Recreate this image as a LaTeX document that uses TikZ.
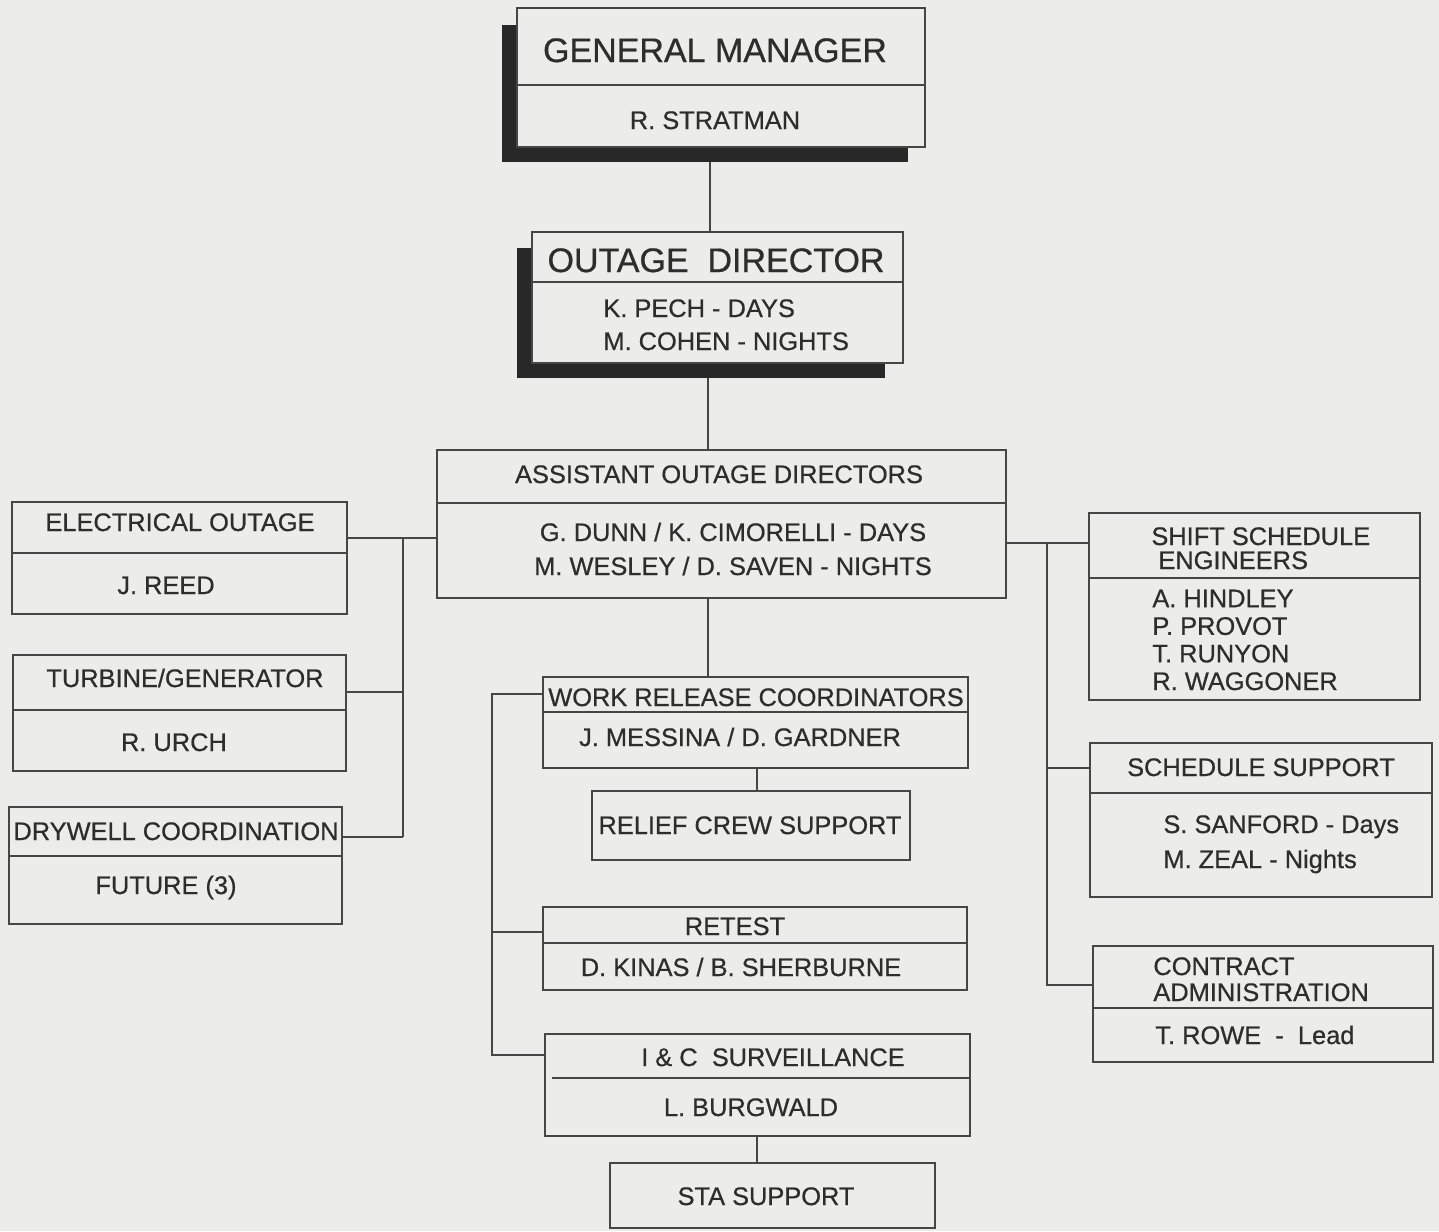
\documentclass[tikz,border=0pt]{standalone}
\usepackage{fontspec}
\setmainfont{Liberation Sans}[FakeBold=0.6]
\usetikzlibrary{fit}
\definecolor{bg}{RGB}{236,236,234}
\definecolor{ink}{RGB}{70,70,70}
\definecolor{txt}{RGB}{45,45,45}
\definecolor{shad}{RGB}{40,40,40}
\tikzset{
  box/.style={draw=ink, line width=0.9pt, fill=bg, inner sep=0pt, rectangle},
  shadowbox/.style={fill=shad, draw=none, inner sep=0pt, rectangle},
  divider/.style={draw=ink, line width=0.9pt},
  conn/.style={draw=ink, line width=0.8pt},
  lbl/.style={text=txt, inner sep=0pt, anchor=base, font=\fontsize{12.7}{17}\selectfont},
  lbll/.style={lbl, anchor=base west, align=left},
  big/.style={text=txt, inner sep=0pt, anchor=base, font=\fontsize{17}{20}\selectfont},
}
\begin{document}
\begin{tikzpicture}[x=0.5pt,y=-0.5pt]
\useasboundingbox[fill=bg] (0,0) rectangle (1439,1231);

% ---- shadows
\node[shadowbox, fit={(502,25) (908,162)}] (gmsh) {};
\node[shadowbox, fit={(517,248) (885,378)}] (odsh) {};

% ---- boxes
\node[box, fit={(517,8) (925,147)}] (gm) {};
\node[box, fit={(532,232) (903,363)}] (od) {};
\node[box, fit={(437,450) (1006,598)}] (aod) {};
\node[box, fit={(12,502) (347,614)}] (eo) {};
\node[box, fit={(13,655) (346,771)}] (tg) {};
\node[box, fit={(9,807) (342,924)}] (dc) {};
\node[box, fit={(543,677) (968,768)}] (wrc) {};
\node[box, fit={(592,791) (910,860)}] (rcs) {};
\node[box, fit={(543,907) (967,990)}] (rt) {};
\node[box, fit={(545,1034) (970,1136)}] (ic) {};
\node[box, fit={(610,1163) (935,1228)}] (sta) {};
\node[box, fit={(1089,513) (1420,700)}] (sse) {};
\node[box, fit={(1090,743) (1432,897)}] (ss) {};
\node[box, fit={(1093,946) (1433,1062)}] (ca) {};

% ---- dividers
\draw[divider] (gm.west |- 0,85) -- (gm.east |- 0,85);
\draw[divider] (od.west |- 0,282) -- (od.east |- 0,282);
\draw[divider] (aod.west |- 0,503) -- (aod.east |- 0,503);
\draw[divider] (eo.west |- 0,553) -- (eo.east |- 0,553);
\draw[divider] (tg.west |- 0,710) -- (tg.east |- 0,710);
\draw[divider] (dc.west |- 0,856) -- (dc.east |- 0,856);
\draw[divider] (wrc.west |- 0,712) -- (wrc.east |- 0,712);
\draw[divider] (rt.west |- 0,943) -- (rt.east |- 0,943);
\draw[divider] (552,1078) -- (ic.east |- 0,1078);
\draw[divider] (sse.west |- 0,578) -- (sse.east |- 0,578);
\draw[divider] (ss.west |- 0,793) -- (ss.east |- 0,793);
\draw[divider] (ca.west |- 0,1008) -- (ca.east |- 0,1008);

% ---- connectors (vertical trunk)
\coordinate (b1) at (710,0 |- gmsh.south);
\coordinate (b2) at (710,0 |- od.north);
\draw[conn] (b1) -- (b2);
\coordinate (b3) at (708,0 |- odsh.south);
\coordinate (b4) at (708,0 |- aod.north);
\draw[conn] (b3) -- (b4);
\coordinate (b5) at (708,0 |- aod.south);
\coordinate (b6) at (708,0 |- wrc.north);
\draw[conn] (b5) -- (b6);
\coordinate (b7) at (757,0 |- wrc.south);
\coordinate (b8) at (757,0 |- rcs.north);
\draw[conn] (b7) -- (b8);
\coordinate (b9) at (757,0 |- ic.south);
\coordinate (b10) at (757,0 |- sta.north);
\draw[conn] (b9) -- (b10);

% ---- left group
\coordinate (lb1) at (403,538);
\coordinate (lb2) at (403,692);
\coordinate (lb3) at (403,837);
\draw[conn] (aod.west |- lb1) -- (eo.east |- lb1);
\draw[conn] (lb1) -- (lb3);
\draw[conn] (lb2) -- (tg.east |- lb2);
\draw[conn] (lb3) -- (dc.east |- lb3);

% ---- centre group
\coordinate (cb1) at (492,694);
\coordinate (cb2) at (492,932);
\coordinate (cb3) at (492,1055);
\draw[conn] (wrc.west |- cb1) -- (cb1) -- (cb3) -- (ic.west |- cb3);
\draw[conn] (cb2) -- (rt.west |- cb2);

% ---- right group
\coordinate (rb1) at (1047,543);
\coordinate (rb2) at (1047,768);
\coordinate (rb3) at (1047,985);
\draw[conn] (aod.east |- rb1) -- (sse.west |- rb1);
\draw[conn] (rb1) -- (rb3) -- (ca.west |- rb3);
\draw[conn] (rb2) -- (ss.west |- rb2);

% ---- texts (multi-line nodes: base = baseline of last line)
\node[big] (t1) at (715,62) {GENERAL MANAGER};
\node[lbl] (t2) at (715,129) {R. STRATMAN};
\node[big] (t3) at (716,272) {OUTAGE\ \ DIRECTOR};
\node[lbll, font=\fontsize{12.7}{16.5}\selectfont] (t4) at (603,350) {K. PECH - DAYS\\M. COHEN - NIGHTS};
\node[lbl] (t5) at (719,483) {ASSISTANT OUTAGE DIRECTORS};
\node[lbl, align=center] (t6) at (733,575) {G. DUNN / K. CIMORELLI - DAYS\\M. WESLEY / D. SAVEN - NIGHTS};
\node[lbl] (t7) at (180,531) {ELECTRICAL OUTAGE};
\node[lbl] (t8) at (166,594) {J. REED};
\node[lbl] (t9) at (185,687) {TURBINE/GENERATOR};
\node[lbl] (t10) at (174,751) {R. URCH};
\node[lbl] (t11) at (176,840) {DRYWELL COORDINATION};
\node[lbl] (t12) at (166,894) {FUTURE (3)};
\node[lbl] (t13) at (756,706) {WORK RELEASE COORDINATORS};
\node[lbl] (t14) at (740,746) {J. MESSINA / D. GARDNER};
\node[lbl] (t15) at (750,834) {RELIEF CREW SUPPORT};
\node[lbl] (t16) at (735,935) {RETEST};
\node[lbl] (t17) at (741,976) {D. KINAS / B. SHERBURNE};
\node[lbl] (t18) at (773,1066) {I \& C\ \ SURVEILLANCE};
\node[lbl] (t19) at (751,1116) {L. BURGWALD};
\node[lbl] (t20) at (766,1205) {STA SUPPORT};
\node[lbll, font=\fontsize{12.7}{12}\selectfont] (t21) at (1151,569) {SHIFT SCHEDULE\\\hspace*{3.5pt}ENGINEERS};
\node[lbll, font=\fontsize{12.7}{13.8}\selectfont] (t22) at (1152,690) {A. HINDLEY\\P. PROVOT\\T. RUNYON\\R. WAGGONER};
\node[lbl] (t23) at (1261,776) {SCHEDULE SUPPORT};
\node[lbll, font=\fontsize{12.7}{17.5}\selectfont] (t24) at (1163,868) {S. SANFORD - Days\\M. ZEAL - Nights};
\node[lbll, font=\fontsize{12.7}{13}\selectfont] (t25) at (1153,1001) {CONTRACT\\ADMINISTRATION};
\node[lbll] (t26) at (1155,1044) {T. ROWE\ \ -\ \ Lead};
\end{tikzpicture}
\end{document}
